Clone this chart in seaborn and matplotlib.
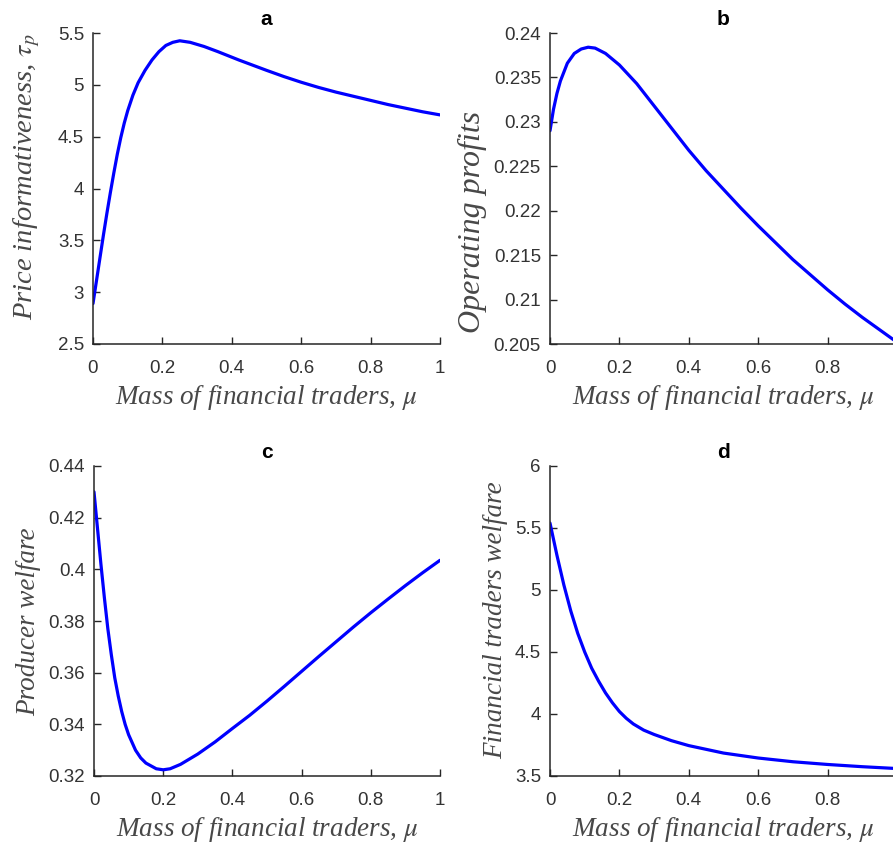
import numpy as np
import pandas as pd
import matplotlib
matplotlib.use("Agg")
import matplotlib.pyplot as plt
import seaborn as sns

# ---- data ----
mu_a = [0, 0.01, 0.02, 0.03, 0.04, 0.05, 0.06, 0.07, 0.08, 0.09, 0.10, 0.115, 0.13,
        0.15, 0.17, 0.19, 0.21, 0.23, 0.25, 0.28, 0.32, 0.36, 0.42, 0.46, 0.50, 0.55,
        0.60, 0.65, 0.70, 0.75, 0.80, 0.85, 0.90, 0.95, 1.00]
price_info = [2.89, 3.11, 3.33, 3.55, 3.76, 3.96, 4.15, 4.33, 4.49, 4.63, 4.75, 4.90, 5.02,
              5.14, 5.24, 5.32, 5.38, 5.41, 5.425, 5.41, 5.37, 5.32, 5.24, 5.19, 5.14, 5.08,
              5.025, 4.975, 4.93, 4.89, 4.85, 4.81, 4.775, 4.74, 4.71]

mu_b = [0, 0.01, 0.02, 0.03, 0.05, 0.07, 0.09, 0.11, 0.13, 0.16, 0.20, 0.25, 0.30,
        0.35, 0.40, 0.45, 0.50, 0.55, 0.60, 0.65, 0.70, 0.75, 0.80, 0.85, 0.90, 0.95, 1.00]
op_profits = [0.2290, 0.2314, 0.2332, 0.2346, 0.2366, 0.2377, 0.2382, 0.2384, 0.2383,
              0.2377, 0.2364, 0.2343, 0.2318, 0.2293, 0.2268, 0.2245, 0.2224, 0.2203,
              0.2183, 0.2164, 0.2145, 0.2128, 0.2111, 0.2095, 0.2080, 0.2066, 0.2052]

mu_c = [0, 0.01, 0.02, 0.03, 0.04, 0.05, 0.06, 0.07, 0.08, 0.09, 0.10, 0.12, 0.135,
        0.15, 0.18, 0.20, 0.22, 0.25, 0.30, 0.35, 0.40, 0.45, 0.50, 0.55, 0.60, 0.65,
        0.70, 0.75, 0.80, 0.85, 0.90, 0.95, 1.00]
prod_welfare = [0.430, 0.416, 0.402, 0.389, 0.377, 0.367, 0.358, 0.351, 0.345, 0.340,
                0.336, 0.330, 0.327, 0.3250, 0.3228, 0.3224, 0.3228, 0.3245, 0.3285,
                0.3332, 0.3384, 0.3435, 0.3490, 0.3547, 0.3605, 0.3663, 0.3720, 0.3777,
                0.3832, 0.3885, 0.3937, 0.3987, 0.4035]

mu_d = [0, 0.02, 0.04, 0.06, 0.08, 0.10, 0.12, 0.14, 0.16, 0.18, 0.20, 0.22, 0.24,
        0.27, 0.30, 0.35, 0.40, 0.50, 0.60, 0.70, 0.80, 0.90, 1.00]
fin_welfare = [5.54, 5.28, 5.04, 4.83, 4.65, 4.50, 4.37, 4.265, 4.17, 4.09, 4.02, 3.965,
               3.92, 3.87, 3.835, 3.785, 3.745, 3.685, 3.645, 3.615, 3.593, 3.575, 3.56]

panel_titles = ["a", "b", "c", "d"]
y_labels = ["Price informativeness, $\\tau_p$", "Operating profits",
            "Producer welfare", "Financial traders welfare"]
x_label = "Mass of financial traders, $\\mu$"
x_ticks = [0, 0.2, 0.4, 0.6, 0.8, 1]
x_ticklabels = ["0", "0.2", "0.4", "0.6", "0.8", "1"]
y_ticks = [[2.5, 3, 3.5, 4, 4.5, 5, 5.5],
           [0.205, 0.21, 0.215, 0.22, 0.225, 0.23, 0.235, 0.24],
           [0.32, 0.34, 0.36, 0.38, 0.40, 0.42, 0.44],
           [3.5, 4, 4.5, 5, 5.5, 6]]
y_ticklabels = [["2.5", "3", "3.5", "4", "4.5", "5", "5.5"],
                ["0.205", "0.21", "0.215", "0.22", "0.225", "0.23", "0.235", "0.24"],
                ["0.32", "0.34", "0.36", "0.38", "0.4", "0.42", "0.44"],
                ["3.5", "4", "4.5", "5", "5.5", "6"]]

series = [(mu_a, price_info), (mu_b, op_profits), (mu_c, prod_welfare), (mu_d, fin_welfare)]

sns.set_style("ticks")
plt.rcParams["font.family"] = ["Liberation Sans", "DejaVu Sans"]
plt.rcParams["mathtext.fontset"] = "stix"

W, H = 893, 844
fig = plt.figure(figsize=(W / 100, H / 100), dpi=100)

# axes rectangles in pixels: left, top, right, bottom
rects = [(93, 33, 440, 344), (550, 33, 897, 344),
         (94, 466, 440, 776), (550, 466, 897, 776)]
ylabel_size = [20.5, 23, 19.5, 19.5]
ylabel_pos = [(-0.146, 0.537), (-0.181, 0.392), (-0.153, 0.497), (-0.121, 0.502)]

dark = "#262626"
for i, ((x, y), r) in enumerate(zip(series, rects)):
    l, t, rr, b = r
    ax = fig.add_axes([l / W, 1 - b / H, (rr - l) / W, (b - t) / H])
    df = pd.DataFrame({"mu": x, "val": y})
    sns.lineplot(data=df, x="mu", y="val", ax=ax, color="#0000FF", linewidth=2.3)
    ax.set_xlim(0, 1)
    ax.set_ylim(y_ticks[i][0], y_ticks[i][-1])
    ax.set_xticks(x_ticks)
    ax.set_xticklabels(x_ticklabels)
    ax.set_yticks(y_ticks[i])
    ax.set_yticklabels(y_ticklabels[i])
    ax.tick_params(direction="in", length=5, width=1, colors=dark, labelsize=13.5,
                   labelcolor="#333333")
    ax.tick_params(axis="x", pad=11.5)
    ax.tick_params(axis="y", pad=6.5)
    for s in ["top", "right"]:
        ax.spines[s].set_visible(False)
    for s in ["left", "bottom"]:
        ax.spines[s].set_color(dark)
        ax.spines[s].set_linewidth(1.1)
    ax.set_xlabel(x_label, fontsize=19.5, fontstyle="italic",
                  family=["Liberation Serif"], color="#484848")
    ax.xaxis.set_label_coords(0.5, -0.125)
    ax.set_ylabel(y_labels[i], fontsize=ylabel_size[i], fontstyle="italic",
                  family=["Liberation Serif"], color="#484848")
    ax.yaxis.set_label_coords(*ylabel_pos[i])
    ax.set_title(panel_titles[i], fontsize=15, fontweight="bold", color="black", pad=6)

fig.savefig("out.png", dpi=100)
